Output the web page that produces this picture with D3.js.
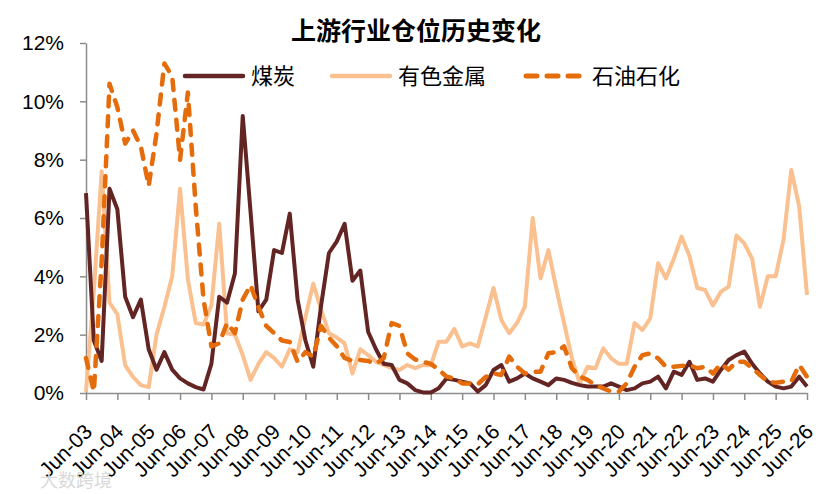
<!DOCTYPE html>
<html>
<head>
<meta charset="utf-8">
<script src="https://cdn.jsdelivr.net/npm/d3@7"></script>
<style>
  body { margin: 0; background: #fff; }
  svg text { font-family: "Liberation Sans", Arial, "Noto Sans CJK SC", sans-serif; }
  .cjk { font-family: "Noto Sans CJK SC", sans-serif; }
  .axis path, .axis line { stroke: #8c8c8c; stroke-width: 1.5; }
  .axis text { font-size: 21px; fill: #000; }
</style>
</head>
<body>
<div id="chart"></div>
<script>
// quarterly positions, Jun-03 .. Jun-26 (%)
const tickLabels = ['Jun-03','Jun-04','Jun-05','Jun-06','Jun-07','Jun-08','Jun-09','Jun-10','Jun-11','Jun-12',
  'Jun-13','Jun-14','Jun-15','Jun-16','Jun-17','Jun-18','Jun-19','Jun-20','Jun-21','Jun-22','Jun-23','Jun-24','Jun-25','Jun-26'];

const coal = [6.85,1.8,1.1,7.0,6.3,3.3,2.6,3.2,1.5,0.8,1.4,0.8,0.5,0.33,0.2,0.12,
  1.0,3.3,3.1,4.1,9.5,6.2,2.8,3.2,4.9,4.8,6.15,3.2,1.8,0.9,3.0,4.8,
  5.2,5.8,3.85,4.2,2.1,1.5,1.0,0.96,0.45,0.33,0.1,0.02,0.02,0.16,0.5,0.45,
  0.39,0.33,0.05,0.27,0.79,0.96,0.39,0.5,0.67,0.5,0.39,0.27,0.5,0.45,0.35,0.27,
  0.22,0.22,0.22,0.33,0.22,0.1,0.16,0.33,0.39,0.56,0.16,0.73,0.62,1.07,0.45,0.5,
  0.39,0.79,1.13,1.3,1.42,1.0,0.67,0.39,0.22,0.16,0.22,0.56,0.22];

const metals = [0.05,3.5,7.6,3.1,2.7,0.95,0.55,0.27,0.2,2.0,2.95,4.0,7.0,3.9,2.4,2.35,
  3.0,5.8,2.05,2.0,1.3,0.45,1.0,1.4,1.2,0.9,1.5,1.4,2.6,3.75,2.85,2.05,
  1.9,1.7,0.67,1.5,1.3,1.07,0.96,0.85,0.79,0.96,0.85,0.96,0.95,1.76,1.76,2.2,
  1.6,1.7,1.6,2.6,3.6,2.5,2.05,2.4,2.96,6.0,3.93,4.9,3.6,2.4,1.2,0.33,
  0.9,0.85,1.53,1.19,1.0,1.0,2.4,2.16,2.56,4.45,3.93,4.6,5.36,4.7,3.6,3.53,
  3.0,3.47,3.65,5.4,5.13,4.6,2.96,4.0,4.0,5.25,7.65,6.4,3.36];

const petro = [1.2,0.05,4.5,10.6,9.8,8.55,9.0,8.45,7.1,8.9,11.3,10.85,8.0,10.3,6.4,3.2,
  1.6,1.7,2.4,2.05,3.2,3.7,2.95,2.3,2.05,1.8,1.75,1.07,1.4,1.25,2.3,1.9,
  1.6,1.2,1.1,1.13,1.1,1.0,1.2,2.4,2.3,1.36,1.15,1.07,1.0,0.8,0.56,0.5,
  0.33,0.33,0.3,0.55,0.67,0.62,1.25,0.9,0.67,0.73,0.73,1.36,1.4,1.6,0.85,0.56,
  0.45,0.27,0.16,0.05,0.05,0.33,0.9,1.3,1.36,1.19,0.9,0.9,0.93,0.96,0.85,0.9,
  0.67,1.0,0.8,1.07,1.07,0.85,0.62,0.39,0.35,0.39,0.4,0.96,0.56];

const seriesNames = ['煤炭', '有色金属', '石油石化'];
const yTicks = [0, 2, 4, 6, 8, 10, 12];

const width = 840, height = 494;
const margin = { top: 43, right: 33, bottom: 101, left: 86 };
const innerW = width - margin.left - margin.right;
const innerH = height - margin.top - margin.bottom;

const svg = d3.select('#chart').append('svg')
  .attr('width', width)
  .attr('height', height);

const chart = svg.append('g')
  .attr('transform', `translate(${margin.left},${margin.top})`);

const x = d3.scaleLinear().domain([0, coal.length - 1]).range([0, innerW]);
const y = d3.scaleLinear().domain([0, 12]).range([innerH, 0]);

// y axis
chart.append('g').attr('class', 'axis')
  .call(d3.axisLeft(y).tickValues(yTicks).tickFormat(d => d + '%').tickSize(6).tickSizeOuter(0).tickPadding(16));

// x axis, one tick per year (every 4th quarter)
const xAxis = chart.append('g').attr('class', 'axis')
  .attr('transform', `translate(0,${innerH})`)
  .call(d3.axisBottom(x).tickValues(tickLabels.map((d, i) => i * 4)).tickFormat((d, i) => tickLabels[i]).tickSize(7).tickSizeOuter(0));
xAxis.selectAll('text')
  .attr('text-anchor', 'end')
  .attr('dy', null)
  .attr('y', null)
  .attr('transform', 'translate(7,40) rotate(-45)');

const series = [
  { name: seriesNames[0], values: coal, color: '#632523', width: 4, dash: null },
  { name: seriesNames[1], values: metals, color: '#FAC090', width: 4, dash: null },
  { name: seriesNames[2], values: petro, color: '#E46C0A', width: 4.5, dash: '10,10' }
];

const line = d3.line()
  .x((d, i) => x(i))
  .y(d => y(d));

// lighter series underneath
[series[1], series[0], series[2]].forEach(s => {
  chart.append('path')
    .datum(s.values)
    .attr('fill', 'none')
    .attr('stroke', s.color)
    .attr('stroke-width', s.width)
    .attr('stroke-linejoin', 'round')
    .attr('stroke-linecap', s.dash ? 'round' : 'butt')
    .attr('stroke-dasharray', s.dash)
    .attr('d', line);
});

// title
svg.append('text')
  .attr('class', 'cjk')
  .attr('x', 416)
  .attr('y', 40)
  .attr('text-anchor', 'middle')
  .style('font-size', '25px')
  .style('font-weight', 'bold')
  .text('上游行业仓位历史变化');

// legend
const legendX = [183, 330, 524];
const legend = svg.selectAll('.legend')
  .data(series)
  .join('g')
  .attr('class', 'legend')
  .attr('transform', (d, i) => `translate(${legendX[i]},76)`);
legend.append('line')
  .attr('x1', 2).attr('x2', 60)
  .attr('stroke', d => d.color)
  .attr('stroke-width', d => d.width + 0.5)
  .attr('stroke-linecap', 'round')
  .attr('stroke-dasharray', d => d.dash ? '11,10' : null);
legend.append('text')
  .attr('class', 'cjk')
  .attr('x', 68)
  .attr('y', 8)
  .style('font-size', '22px')
  .text(d => d.name);

// watermark
svg.append('text')
  .attr('class', 'cjk')
  .attr('x', 40)
  .attr('y', 487)
  .style('font-size', '18px')
  .style('fill', '#d9d9d9')
  .text('大数跨境');
</script>
</body>
</html>
